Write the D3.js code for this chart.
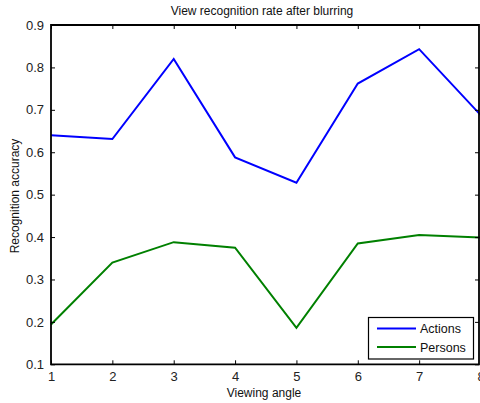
<!DOCTYPE html>
<html>
<head>
<meta charset="utf-8">
<script src="https://cdn.jsdelivr.net/npm/d3@7"></script>
<style>
html,body{margin:0;padding:0;background:#fff;}
svg{display:block;font-family:"Liberation Sans",Arial,sans-serif;}
</style>
</head>
<body>
<svg id="chart" width="480" height="403"></svg>
<script>
const angles = [1, 2, 3, 4, 5, 6, 7, 8];
const actions = [0.640, 0.631, 0.820, 0.588, 0.528, 0.762, 0.843, 0.688];
const persons = [0.194, 0.340, 0.388, 0.375, 0.186, 0.385, 0.405, 0.399];
const yTicks = [0.1, 0.2, 0.3, 0.4, 0.5, 0.6, 0.7, 0.8, 0.9];
const xTicks = [1, 2, 3, 4, 5, 6, 7, 8];
const seriesNames = ["Actions", "Persons"];
const seriesColors = ["#0000ff", "#008000"];

const svg = d3.select("#chart");
const m = {left: 51, right: 480.5, top: 25, bottom: 364.3};
const x = d3.scaleLinear().domain([1, 8]).range([m.left, m.right]);
const y = d3.scaleLinear().domain([0.1, 0.9]).range([m.bottom, m.top]);

svg.append("rect").attr("x",0).attr("y",0).attr("width",480).attr("height",403).attr("fill","#fff");

const series = [actions, persons];
const line = d3.line().x((d,i)=>x(angles[i])).y(d=>y(d));
series.forEach((s,k)=>{
  svg.append("path").datum(s).attr("d", line)
    .attr("fill","none").attr("stroke", seriesColors[k]).attr("stroke-width", 2)
    .attr("stroke-linejoin","miter");
});

const tickLen = 4;
const fmtY = d => d.toFixed(1);
const gB = svg.append("g").attr("transform",`translate(0,${m.bottom})`)
  .call(d3.axisBottom(x).tickValues(xTicks).tickSize(-tickLen).tickPadding(7).tickFormat(d3.format("d")));
const gT = svg.append("g").attr("transform",`translate(0,${m.top})`)
  .call(d3.axisTop(x).tickValues(xTicks).tickSize(-tickLen).tickFormat(""));
const gL = svg.append("g").attr("transform",`translate(${m.left},0)`)
  .call(d3.axisLeft(y).tickValues(yTicks).tickSize(-tickLen).tickPadding(7).tickFormat(fmtY));
const gR = svg.append("g").attr("transform",`translate(479,0)`)
  .call(d3.axisRight(y).tickValues(yTicks).tickSize(-tickLen).tickFormat(""));
[gB,gT,gL,gR].forEach(g=>{
  g.select(".domain").remove();
  g.selectAll(".tick line").attr("stroke","#000").attr("stroke-width",1);
  g.selectAll(".tick text").attr("fill","#222").style("font-size","13px");
});

svg.append("path")
  .attr("d", `M${m.left},${m.top}H479V${m.bottom}H${m.left}Z`)
  .attr("fill","none").attr("stroke","#000").attr("stroke-width",1.8);

svg.append("text").attr("x",262).attr("y",15).attr("text-anchor","middle")
  .style("font-size","12px").attr("fill","#111").text("View recognition rate after blurring");
svg.append("text").attr("x",264).attr("y",397).attr("text-anchor","middle")
  .style("font-size","12px").attr("fill","#111").text("Viewing angle");
svg.append("text").attr("transform","translate(19,196) rotate(-90)").attr("text-anchor","middle")
  .style("font-size","12px").attr("fill","#111").text("Recognition accuracy");

const lg = svg.append("g");
lg.append("rect").attr("x",368.5).attr("y",317.5).attr("width",105).attr("height",41.5)
  .attr("fill","#fff").attr("stroke","#000").attr("stroke-width",1.2);
seriesNames.forEach((n,k)=>{
  const ly = 328.5 + k*18.5;
  lg.append("line").attr("x1",377).attr("x2",416).attr("y1",ly).attr("y2",ly)
    .attr("stroke",seriesColors[k]).attr("stroke-width",2);
  lg.append("text").attr("x",420).attr("y",ly+4.5).style("font-size","12.5px")
    .attr("fill","#111").text(n);
});
</script>
</body>
</html>
